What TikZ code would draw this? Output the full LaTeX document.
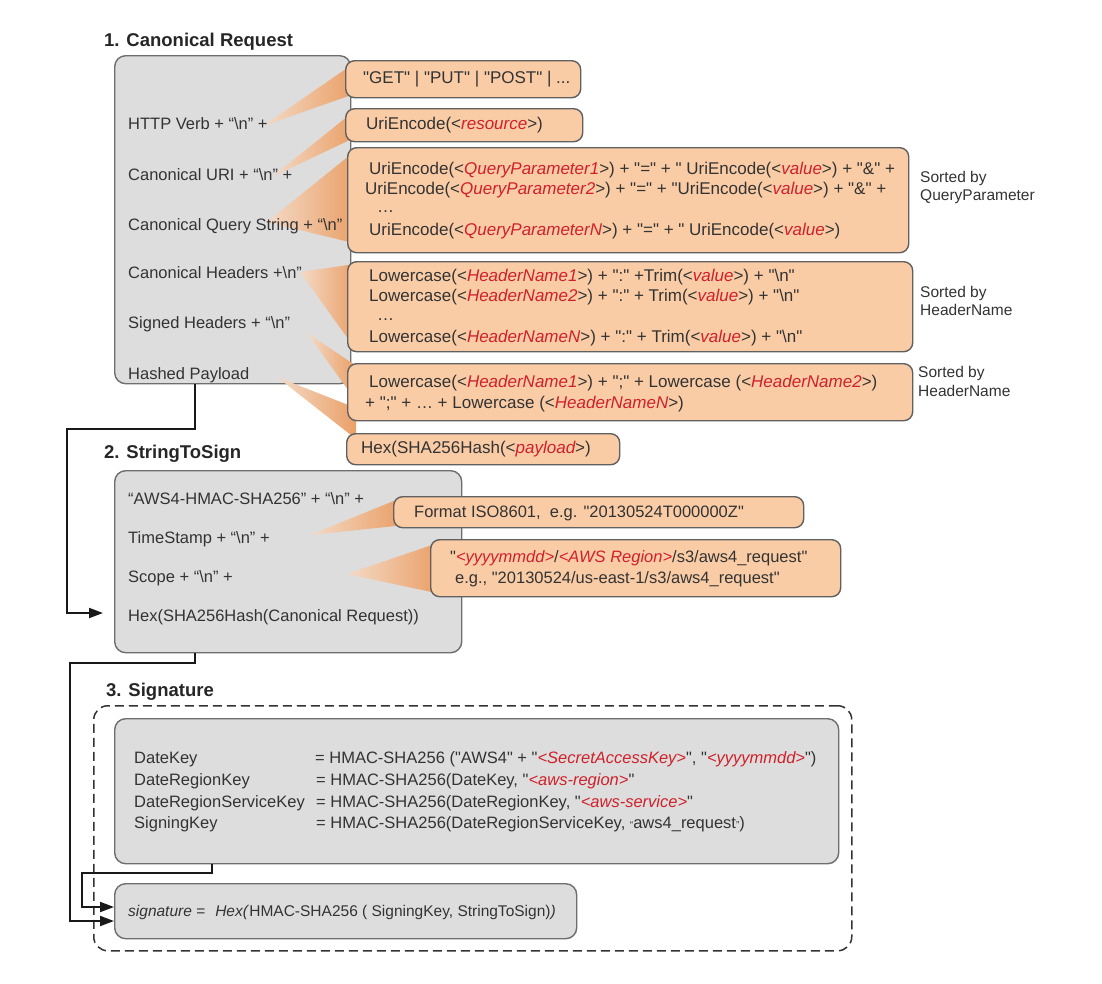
\documentclass[tikz,border=0pt]{standalone}
\usepackage{fontspec}
\newfontfamily\lsans{Liberation Sans}
\usetikzlibrary{arrows.meta,calc}
\definecolor{grayfill}{HTML}{DDDDDD}
\definecolor{grayline}{HTML}{6E6E6E}
\definecolor{orfill}{HTML}{F9CCA6}
\definecolor{orline}{HTML}{606060}
\definecolor{wlight}{HTML}{F4DAC6}
\definecolor{wdark}{HTML}{EAA068}
\definecolor{redc}{HTML}{D0202A}
\definecolor{txtc}{HTML}{333333}
\newcommand{\rv}[1]{\textcolor{redc}{\itshape #1}}
\newcommand{\bsn}{\textbackslash n}
\newcommand{\smq}[1]{{\fontsize{10}{10}\selectfont #1}}
\pgfdeclarelayer{gboxlayer}
\pgfdeclarelayer{wedgelayer}
\pgfsetlayers{gboxlayer,wedgelayer,main}
\begin{document}
\begin{tikzpicture}[x=1pt,y=-1pt,
 gbox/.style={draw=grayline, line width=1.4pt, fill=grayfill, rounded corners=11pt, anchor=north west, inner sep=0pt},
 obox/.style={draw=orline, line width=1.4pt, fill=orfill, rounded corners=9pt, anchor=north west, inner sep=0pt},
 dbox/.style={draw=black!80, line width=1.5pt, dash pattern=on 9pt off 5pt, rounded corners=14pt, anchor=north west, inner sep=0pt},
 t/.style={anchor=west, inner sep=0pt, text height=11.8pt, text depth=0pt, font=\lsans\fontsize{16.5}{19}\selectfont, text=txtc},
 to/.style={t, font=\lsans\fontsize{17}{20}\selectfont},
 note/.style={t, font=\lsans\fontsize{15.5}{18}\selectfont},
 ttl/.style={anchor=west, inner sep=0pt, text height=13pt, text depth=0pt, font=\lsans\fontsize{18.5}{22}\selectfont\bfseries, text=black!85},
 wedgefill/.style={left color=wlight, right color=wdark, draw=none},
 conn/.style={draw=black!90, line width=2pt, -{Triangle[length=14pt,width=10pt]}},
]
\begin{pgfonlayer}{gboxlayer}
\fill[white] (0,0) rectangle (1102,983);
\node[gbox, minimum width=236pt, minimum height=328pt] (g1) at (114,55) {};
\node[gbox, minimum width=347pt, minimum height=182pt] (g2) at (114,470) {};
\node[gbox, minimum width=724pt, minimum height=145pt] (g3) at (114,718) {};
\node[gbox, minimum width=462pt, minimum height=55pt] (g4) at (114,883) {};
\end{pgfonlayer}
\useasboundingbox (0,0) rectangle (1102,983);

% titles
\node[ttl] (ttl1) at (104,40) {1. Canonical Request};
\node[ttl] (ttl2) at (104,452) {2. StringToSign};
\node[ttl] (ttl3) at (106,690) {3. Signature};

% dashed signature frame
\node[dbox, minimum width=758pt, minimum height=245pt] (sig) at (93,705) {};

% orange boxes
\node[obox, minimum width=235pt, minimum height=37pt] (b1) at (345,60) {};
\node[obox, minimum width=237pt, minimum height=33pt] (b2) at (345,108) {};
\node[obox, minimum width=561pt, minimum height=105pt] (b3) at (347,147) {};
\node[obox, minimum width=565pt, minimum height=90pt] (b4) at (347,261) {};
\node[obox, minimum width=565pt, minimum height=57pt] (b5) at (347,363) {};
\node[obox, minimum width=273pt, minimum height=31pt] (b6) at (346,433) {};
\node[obox, minimum width=410pt, minimum height=31pt] (c1) at (393,496) {};
\node[obox, minimum width=410pt, minimum height=57pt] (c2) at (430,539) {};

% wedge tips
\coordinate (w1) at (263,126);
\coordinate (w2) at (272,177);
\coordinate (w3) at (267,222);
\coordinate (w4) at (300,272);
\coordinate (w5) at (307,333);
\coordinate (w6) at (277,377);
\coordinate (wc1) at (310,535);
\coordinate (wc2) at (347,574);
\begin{pgfonlayer}{wedgelayer}
\shade[wedgefill] (w1) -- ($(b1.north west)+(8,4)$) -- ($(b1.south west)+(8,-4)$) -- cycle;
\shade[wedgefill] (w2) -- ($(b2.north west)+(8,4)$) -- ($(b2.south west)+(8,-4)$) -- cycle;
\shade[wedgefill] (w3) -- ($(b3.north west)+(8,4)$) -- ($(b3.south west)+(8,-10)$) -- cycle;
\shade[wedgefill] (w4) -- ($(b4.north west)+(8,3)$) -- ($(b4.south west)+(8,-4)$) -- cycle;
\shade[wedgefill] (w5) -- ($(b5.north west)+(8,2)$) -- ($(b5.south west)+(8,-22)$) -- cycle;
\shade[wedgefill] (w6) -- ($(b6.north west)+(10,-25)$) -- ($(b6.north west)+(10,6)$) -- cycle;
\shade[wedgefill] (wc1) -- ($(c1.north west)+(8,2)$) -- ($(c1.south west)+(8,-3)$) -- cycle;
\shade[wedgefill] (wc2) -- ($(c2.north west)+(8,4)$) -- ($(c2.south west)+(8,-4)$) -- cycle;
\end{pgfonlayer}

% canonical request list
\node[t] (r1) at (128,124) {HTTP Verb + “\bsn” +};
\node[t] (r2) at (128,175) {Canonical URI + “\bsn” +};
\node[t] (r3) at (128,225) {Canonical Query String + “\bsn”};
\node[t] (r4) at (128,273) {Canonical Headers +\bsn”};
\node[t] (r5) at (128,323) {Signed Headers + “\bsn”};
\node[t] (r6) at (128,374) {Hashed Payload};

% orange texts
\node[to] (b1t) at (363,78) {"GET" | "PUT" | "POST" | ...};
\node[to] (b2t) at (366,124) {UriEncode(<\rv{resource}>)};
\node[to] (b3a) at (369,169) {UriEncode(<\rv{QueryParameter1}>) + "=" + " UriEncode(<\rv{value}>) + "\&" +};
\node[to] (b3b) at (365,189) {UriEncode(<\rv{QueryParameter2}>) + "=" + "UriEncode(<\rv{value}>) + "\&" +};
\node[to] (b3c) at (377,207) {…};
\node[to] (b3d) at (369,230) {UriEncode(<\rv{QueryParameterN}>) + "=" + " UriEncode(<\rv{value}>)};
\node[to] (b4a) at (369,276) {Lowercase(<\rv{HeaderName1}>) + ":" +Trim(<\rv{value}>) + "\bsn"};
\node[to] (b4b) at (369,296) {Lowercase(<\rv{HeaderName2}>) + ":" + Trim(<\rv{value}>) + "\bsn"};
\node[to] (b4c) at (377,315) {…};
\node[to] (b4d) at (369,337) {Lowercase(<\rv{HeaderNameN}>) + ":" + Trim(<\rv{value}>) + "\bsn"};
\node[to] (b5a) at (369,382) {Lowercase(<\rv{HeaderName1}>) + ";" + Lowercase (<\rv{HeaderName2}>)};
\node[to] (b5b) at (365,403) {+ ";" + … + Lowercase (<\rv{HeaderNameN}>)};
\node[to] (b6t) at (361,448) {Hex(SHA256Hash(<\rv{payload}>)};

% side notes
\node[note] (n1a) at (920,177) {Sorted by};
\node[note] (n1b) at (920,195) {QueryParameter};
\node[note] (n2a) at (920,292) {Sorted by};
\node[note] (n2b) at (920,310) {HeaderName};
\node[note] (n3a) at (918,372) {Sorted by};
\node[note] (n3b) at (918,391) {HeaderName};

% string to sign
\node[t] (s1) at (128,499) {“AWS4-HMAC-SHA256” + “\bsn” +};
\node[t] (s2) at (128,538) {TimeStamp + “\bsn” +};
\node[t] (s3) at (128,577) {Scope + “\bsn” +};
\node[t] (s4) at (128,616) {Hex(SHA256Hash(Canonical Request))};
\node[t] (c1t) at (414,512) {Format ISO8601,\ \ e.g. "20130524T000000Z"};
\node[t] (c2a) at (450,557) {"\rv{<yyyymmdd>}/\rv{<AWS Region>}/s3/aws4\_request"};
\node[t] (c2b) at (455,578) {e.g., "20130524/us-east-1/s3/aws4\_request"};

% signature keys
\node[t] (k1n) at (134,758) {DateKey};
\node[t] (k2n) at (134,780) {DateRegionKey};
\node[t] (k3n) at (134,802) {DateRegionServiceKey};
\node[t] (k4n) at (134,823) {SigningKey};
\node[t] (k1e) at (315,758) {= HMAC-SHA256 ("AWS4" + "\rv{<SecretAccessKey>}", "\rv{<yyyymmdd>}")};
\node[t] (k2e) at (316,780) {= HMAC-SHA256(DateKey, "\rv{<aws-region>}"};
\node[t] (k3e) at (316,802) {= HMAC-SHA256(DateRegionKey, "\rv{<aws-service>}"};
\node[t] (k4e) at (316,823) {= HMAC-SHA256(DateRegionServiceKey, \smq{“}aws4\_request\smq{”})};
\node[t, font=\lsans\fontsize{15.5}{18}\selectfont] (sgt) at (128,911) {\textit{signature =}\hspace{10pt}\textit{Hex(}HMAC-SHA256 ( SigningKey, StringToSign)\textit{)}};

% connectors
\coordinate (k1) at (67,613);
\coordinate (k2) at (70,921);
\coordinate (k3) at (82,907);
\coordinate (a1) at ($(g2.west |- k1)+(-11,0)$);
\draw[conn] ([xshift=81pt]g1.south west) -- ++(0,45) -| (k1) -- (a1);
\draw[conn] ([xshift=81pt]g2.south west) -- ++(0,10) -| (k2) -- (g4.west |- k2);
\draw[conn] ([xshift=98pt]g3.south west) -- ++(0,9) -| (k3) -- (g4.west |- k3);
\end{tikzpicture}
\end{document}
